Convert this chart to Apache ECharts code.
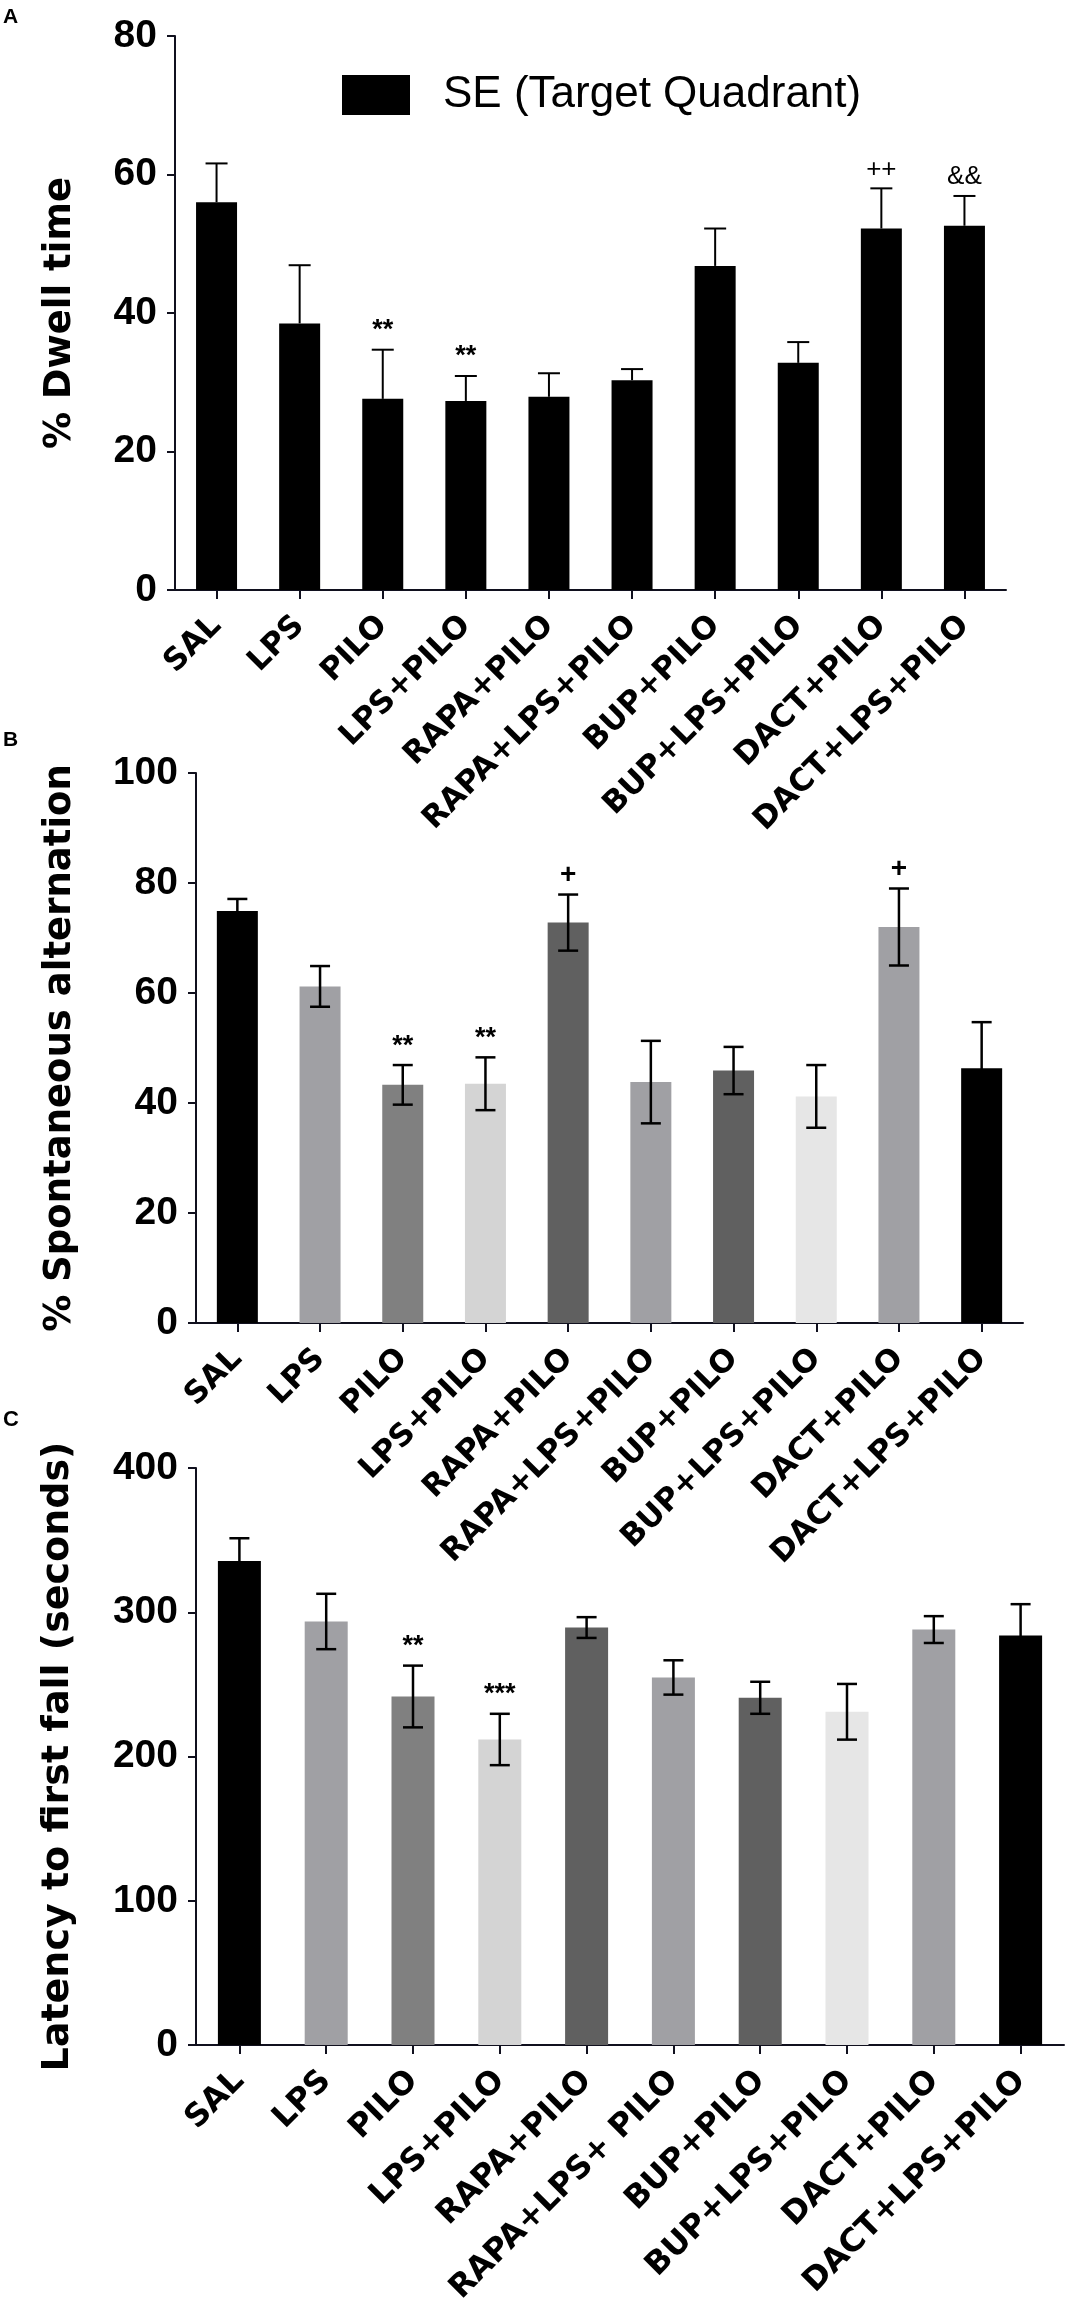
<!DOCTYPE html>
<html>
<head>
<meta charset="utf-8">
<script src="https://cdn.jsdelivr.net/npm/echarts/dist/echarts.min.js"></script>
<style>
  html, body { margin: 0; padding: 0; background: #fff; }
  #chart { width: 1067px; height: 2303px; }
</style>
</head>
<body>
<div id="chart"></div>
<script>
// groups (panel C writes one label with a space)
var groups = ['SAL', 'LPS', 'PILO', 'LPS+PILO', 'RAPA+PILO', 'RAPA+LPS+PILO', 'BUP+PILO', 'BUP+LPS+PILO', 'DACT+PILO', 'DACT+LPS+PILO'];
var groupsC = ['SAL', 'LPS', 'PILO', 'LPS+PILO', 'RAPA+PILO', 'RAPA+LPS+ PILO', 'BUP+PILO', 'BUP+LPS+PILO', 'DACT+PILO', 'DACT+LPS+PILO'];

// A: % dwell time in target quadrant (mean, SEM up only)
var dwellMean = [56.0, 38.5, 27.6, 27.3, 27.9, 30.3, 46.8, 32.8, 52.2, 52.6];
var dwellErr  = [5.6, 8.4, 7.1, 3.6, 3.4, 1.6, 5.4, 3.0, 5.8, 4.3];
var dwellMarks = ['', '', '**', '**', '', '', '', '', '++', '&&'];

// B: % spontaneous alternation
var altMean = [74.9, 61.2, 43.3, 43.5, 72.8, 43.8, 45.9, 41.2, 72.0, 46.3];
var altErr  = [2.2, 3.7, 3.6, 4.8, 5.1, 7.5, 4.3, 5.7, 7.0, 8.4];
var altMarks = ['', '', '**', '**', '+', '', '', '', '+', ''];

// C: latency to first fall (s)
var latMean = [335.6, 293.6, 241.6, 211.8, 289.4, 254.8, 240.7, 231.0, 288.0, 283.9];
var latErr  = [15.7, 19.2, 21.4, 17.8, 7.2, 11.9, 11.1, 19.3, 9.3, 21.7];
var latMarks = ['', '', '**', '***', '', '', '', '', '', ''];

var greys = ['#000000', '#a0a0a4', '#808080', '#d4d4d4', '#606060', '#a0a0a4', '#606060', '#e6e6e6', '#a0a0a4', '#000000'];

var axisCol = '#10101e';
var starFont = 'bold 27px "Liberation Sans"';
var chart = echarts.init(document.getElementById('chart'));

function xAx(idx, cats, size) {
    return {
        type: 'category', gridIndex: idx, data: cats,
        axisLine: { show: true, lineStyle: { color: axisCol, width: 2 } },
        axisTick: { show: true, alignWithLabel: true, length: 9, lineStyle: { color: axisCol, width: 2 } },
        axisLabel: { interval: 0, rotate: 45, margin: 31, color: '#000',
            fontFamily: 'DejaVu Sans', fontWeight: 'bold', fontSize: size },
        splitLine: { show: false }
    };
}

function yAx(idx, max, step, name, gap, nsize) {
    return {
        type: 'value', gridIndex: idx, min: 0, max: max, interval: step,
        name: name, nameLocation: 'middle', nameGap: gap,
        nameTextStyle: { fontFamily: 'DejaVu Sans', fontWeight: 'bold', fontSize: nsize, color: '#000' },
        axisLine: { show: true, lineStyle: { color: axisCol, width: 2 } },
        axisTick: { show: true, length: 8, lineStyle: { color: axisCol, width: 2 } },
        axisLabel: { margin: 18, color: '#000', fontFamily: 'Liberation Sans', fontWeight: 'bold', fontSize: 39 },
        splitLine: { show: false }
    };
}

// error bar + significance mark drawn over each bar
function errBars(marks, capW, lw, oneSided, otherFont) {
    return function (params, api) {
        var i = api.value(0), m = api.value(1), e = api.value(2);
        var top = api.coord([i, m + e]);
        var low = api.coord([i, oneSided ? m : m - e]);
        var h = capW / 2;
        var st = { stroke: '#000', lineWidth: lw };
        var kids = [
            { type: 'line', shape: { x1: top[0], y1: top[1], x2: low[0], y2: low[1] }, style: st },
            { type: 'line', shape: { x1: top[0] - h, y1: top[1], x2: top[0] + h, y2: top[1] }, style: st }
        ];
        if (!oneSided) {
            kids.push({ type: 'line', shape: { x1: low[0] - h, y1: low[1], x2: low[0] + h, y2: low[1] }, style: st });
        }
        var mk = marks[params.dataIndex];
        if (mk) {
            kids.push({ type: 'text', x: top[0], y: top[1] - 19,
                style: { text: mk, fill: '#000', font: mk.indexOf('*') >= 0 ? starFont : otherFont,
                         align: 'center', verticalAlign: 'middle' } });
        }
        return { type: 'group', children: kids };
    };
}

function triples(mean, err) {
    return mean.map(function (v, i) { return [i, v, err[i]]; });
}

function coloured(mean, cols) {
    return mean.map(function (v, i) { return { value: v, itemStyle: { color: cols[i] } }; });
}

var option = {
    animation: false,
    backgroundColor: '#fff',
    graphic: [
        { type: 'text', left: 3, top: 7, style: { text: 'A', font: 'bold 21px "Liberation Sans"', fill: '#000' } },
        { type: 'text', left: 3, top: 730, style: { text: 'B', font: 'bold 21px "Liberation Sans"', fill: '#000' } },
        { type: 'text', left: 3, top: 1409, style: { text: 'C', font: 'bold 22px "Liberation Sans"', fill: '#000' } }
    ],
    legend: {
        data: ['SE (Target Quadrant)'], left: 337, top: 68, icon: 'rect',
        itemWidth: 68, itemHeight: 40, selectedMode: false,
        textStyle: { fontFamily: 'Liberation Sans', fontSize: 44, color: '#000', padding: [0, 0, 0, 28] }
    },
    grid: [
        { left: 175, top: 36, width: 831, height: 554, outerBoundsMode: 'none' },
        { left: 196, top: 773, width: 827, height: 550, outerBoundsMode: 'none' },
        { left: 196, top: 1468, width: 868, height: 577, outerBoundsMode: 'none' }
    ],
    xAxis: [xAx(0, groups, 31), xAx(1, groups, 31), xAx(2, groupsC, 32)],
    yAxis: [
        yAx(0, 80, 20, '% Dwell time', 96, 37),
        yAx(1, 100, 20, '% Spontaneous alternation', 117, 37),
        yAx(2, 400, 100, 'Latency to first fall (seconds)', 119, 38)
    ],
    series: [
        { name: 'SE (Target Quadrant)', type: 'bar', xAxisIndex: 0, yAxisIndex: 0,
          barWidth: 41, itemStyle: { color: '#000' }, data: dwellMean },
        { name: 'SE dwell err', type: 'custom', xAxisIndex: 0, yAxisIndex: 0, z: 5,
          renderItem: errBars(dwellMarks, 22, 2, true, '26px "Liberation Sans"'),
          encode: { x: 0, y: 1 }, data: triples(dwellMean, dwellErr) },

        { name: 'Alternation', type: 'bar', xAxisIndex: 1, yAxisIndex: 1,
          barWidth: 41, data: coloured(altMean, greys) },
        { name: 'Alternation err', type: 'custom', xAxisIndex: 1, yAxisIndex: 1, z: 5,
          renderItem: errBars(altMarks, 20, 2.5, false, 'bold 28px "Liberation Sans"'),
          encode: { x: 0, y: 1 }, data: triples(altMean, altErr) },

        { name: 'Latency', type: 'bar', xAxisIndex: 2, yAxisIndex: 2,
          barWidth: 43, data: coloured(latMean, greys) },
        { name: 'Latency err', type: 'custom', xAxisIndex: 2, yAxisIndex: 2, z: 5,
          renderItem: errBars(latMarks, 20, 2.5, false, 'bold 28px "Liberation Sans"'),
          encode: { x: 0, y: 1 }, data: triples(latMean, latErr) }
    ]
};

chart.setOption(option);
</script>
</body>
</html>
